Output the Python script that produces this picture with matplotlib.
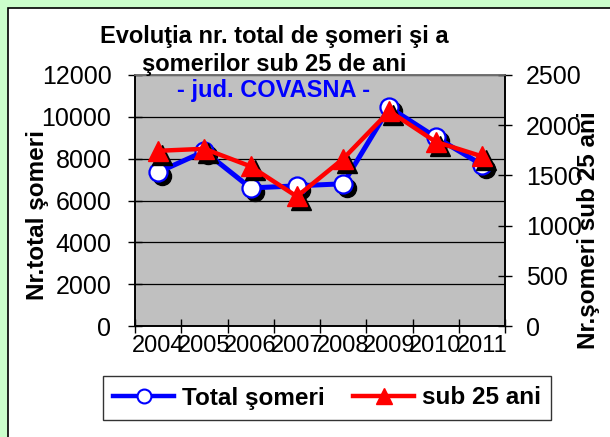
import matplotlib
matplotlib.use("Agg")
import matplotlib.pyplot as plt
from matplotlib.patches import Rectangle
from matplotlib.transforms import offset_copy
from matplotlib.lines import Line2D

# --- data ---
years = ["2004", "2005", "2006", "2007", "2008", "2009", "2010", "2011"]
total_someri = [7350, 8350, 6600, 6700, 6800, 10450, 9030, 7710]
sub_25_ani = [1745, 1765, 1590, 1290, 1665, 2140, 1835, 1690]

plt.rcParams['font.family'] = ['Liberation Sans', 'DejaVu Sans']

W, H = 610, 437
fig = plt.figure(figsize=(W / 100, H / 100), dpi=100)
fig.patch.set_facecolor('#CCFFCC')

# white chart area with black frame (left/top edges visible)
fig.patches.append(Rectangle((8 / W, -0.05), 1.2, (H - 8) / H + 0.05,
                             transform=fig.transFigure, facecolor='white',
                             edgecolor='black', linewidth=1.2, zorder=-10))

ax = fig.add_axes([135 / W, (H - 326) / H, (505 - 135) / W, (326 - 75) / H])
ax.set_facecolor('#C0C0C0')
ax2 = ax.twinx()

x = list(range(len(years)))

# blue series + shadow (left axis)
sh1 = offset_copy(ax.transData, fig=fig, x=4, y=-4, units='dots')
ax.plot(x, total_someri, linestyle='none', marker='o', markersize=13,
        color='black', transform=sh1, zorder=2)
ax.plot(x, total_someri, color='#0000FF', linewidth=3.6, marker='o',
        markersize=13, markerfacecolor='white', markeredgecolor='#0000FF',
        markeredgewidth=1.6, zorder=3)

# red series + shadow (right axis)
sh2 = offset_copy(ax2.transData, fig=fig, x=4, y=-4, units='dots')
ax2.plot(x, sub_25_ani, linestyle='none', marker='^', markersize=15,
         color='black', transform=sh2, zorder=2)
ax2.plot(x, sub_25_ani, color='#FF0000', linewidth=3.2, marker='^',
         markersize=15, zorder=3)

ax.set_xlim(-0.5, len(years) - 0.5)
ax.set_ylim(0, 12000)
ax2.set_ylim(0, 2500)
ax.set_yticks(range(0, 12001, 2000))
ax2.set_yticks(range(0, 2501, 500))
ax.set_xticks([i - 0.5 for i in range(len(years) + 1)])
ax.set_xticklabels([])
ax.set_xticks(x, minor=True)
ax.set_xticklabels(years, minor=True)

ax.yaxis.grid(True, color='black', linewidth=0.9)
ax.set_axisbelow(True)

for a in (ax, ax2):
    for s in a.spines.values():
        s.set_color('black')
        s.set_linewidth(1.2)
    a.spines['top'].set_color('#707070')
ax.tick_params(axis='y', which='major', direction='inout', length=10,
               width=1, labelsize=18, pad=12)
ax.tick_params(axis='x', which='major', direction='inout', length=10,
               width=1)
ax.tick_params(axis='x', which='minor', length=0, labelsize=17, pad=6.5)
ax2.tick_params(axis='y', direction='inout', length=10, width=1,
                labelsize=18, pad=10)

fig.text(38 / W, 1 - 215 / H, "Nr.total şomeri", rotation=90, fontsize=17.5,
         fontweight='bold', ha='center', va='center')
fig.text(588 / W, 1 - 230 / H, "Nr.şomeri sub 25 ani", rotation=90,
         fontsize=17.5, fontweight='bold', ha='center', va='center')

fig.text(274 / W, 1 - 43 / H, "Evoluţia nr. total de şomeri şi a",
         fontsize=17, fontweight='bold', ha='center', va='baseline')
fig.text(274 / W, 1 - 71 / H, "şomerilor sub 25 de ani",
         fontsize=17, fontweight='bold', ha='center', va='baseline')
fig.text(274 / W, 1 - 97 / H, "- jud. COVASNA -", fontsize=17,
         fontweight='bold', color='#0000FF', ha='center', va='baseline')

handles = [
    Line2D([], [], color='#0000FF', linewidth=3.2, marker='o', markersize=10,
           markerfacecolor='white', markeredgecolor='#0000FF', markeredgewidth=1.5),
    Line2D([], [], color='#FF0000', linewidth=3.2, marker='^', markersize=11),
]
leg = fig.legend(handles, ["Total şomeri", "sub 25 ani"], ncol=2,
                 loc='center', bbox_to_anchor=(327 / W, 1 - 398 / H),
                 prop={'weight': 'bold', 'size': 17.5}, frameon=True,
                 fancybox=False, edgecolor='black', handlelength=2.5,
                 columnspacing=1.2, handletextpad=0.3, borderpad=0.45,
                 borderaxespad=0)
leg.get_frame().set_linewidth(1.0)

fig.savefig("out.png", dpi=100, facecolor=fig.get_facecolor())
